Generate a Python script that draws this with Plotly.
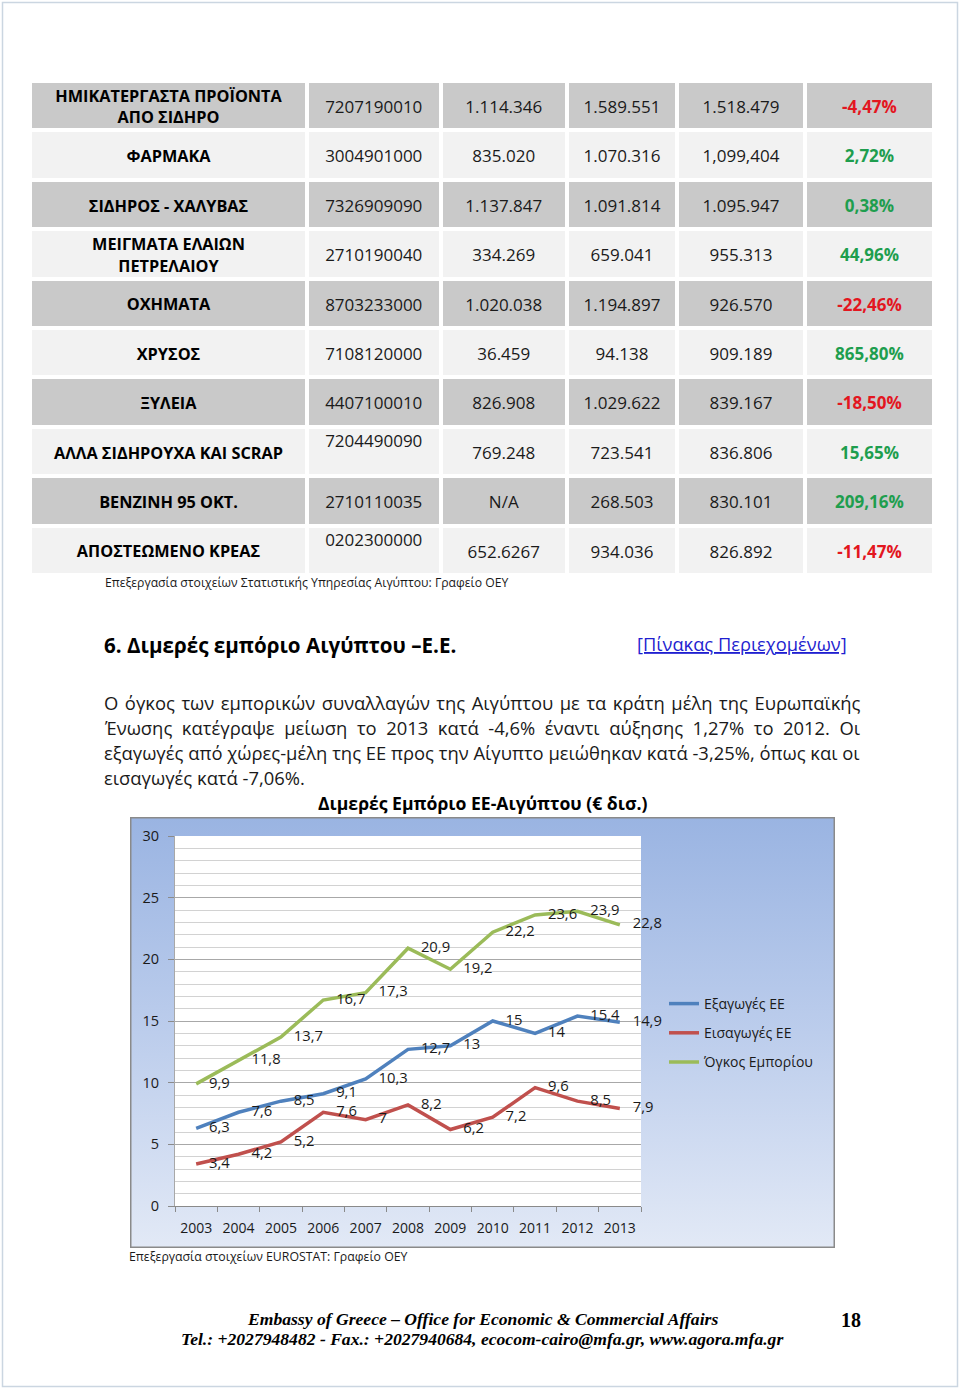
import base64
import plotly.graph_objects as go

W, H = 960, 1389

# ---------------- data: product table ----------------
products = [
    "ΗΜΙΚΑΤΕΡΓΑΣΤΑ ΠΡΟΪΟΝΤΑ<br>ΑΠΟ ΣΙΔΗΡΟ",
    "ΦΑΡΜΑΚΑ",
    "ΣΙΔΗΡΟΣ - ΧΑΛΥΒΑΣ",
    "ΜΕΙΓΜΑΤΑ ΕΛΑΙΩΝ<br>ΠΕΤΡΕΛΑΙΟΥ",
    "ΟΧΗΜΑΤΑ",
    "ΧΡΥΣΟΣ",
    "ΞΥΛΕΙΑ",
    "ΑΛΛΑ ΣΙΔΗΡΟΥΧΑ ΚΑΙ SCRAP",
    "ΒΕΝΖΙΝΗ 95 ΟΚΤ.",
    "ΑΠΟΣΤΕΩΜΕΝΟ ΚΡΕΑΣ",
]
codes = ["7207190010", "3004901000", "7326909090", "2710190040", "8703233000",
         "7108120000", "4407100010", "7204490090", "2710110035", "0202300000"]
val_2011 = ["1.114.346", "835.020", "1.137.847", "334.269", "1.020.038",
            "36.459", "826.908", "769.248", "N/A", "652.6267"]
val_2012 = ["1.589.551", "1.070.316", "1.091.814", "659.041", "1.194.897",
            "94.138", "1.029.622", "723.541", "268.503", "934.036"]
val_2013 = ["1.518.479", "1,099,404", "1.095.947", "955.313", "926.570",
            "909.189", "839.167", "836.806", "830.101", "826.892"]
change_pct = ["-4,47%", "2,72%", "0,38%", "44,96%", "-22,46%",
              "865,80%", "-18,50%", "15,65%", "209,16%", "-11,47%"]

# ---------------- data: EU-Egypt trade chart ----------------
years = ["2003", "2004", "2005", "2006", "2007", "2008", "2009", "2010", "2011", "2012", "2013"]
exports_eu = [6.3, 7.6, 8.5, 9.1, 10.3, 12.7, 13, 15, 14, 15.4, 14.9]
imports_eu = [3.4, 4.2, 5.2, 7.6, 7, 8.2, 6.2, 7.2, 9.6, 8.5, 7.9]
trade_volume = [9.9, 11.8, 13.7, 16.7, 17.3, 20.9, 19.2, 22.2, 23.6, 23.9, 22.8]
series_names = ["Εξαγωγές ΕΕ", "Εισαγωγές ΕΕ", "Όγκος Εμπορίου"]

# ---------------- layout constants ----------------
SANS = "Open Sans"
SERIF = "Liberation Serif"
TXT = "#1a1a1a"
col_edges = [30, 307, 440.5, 567, 677, 805, 934]     # table column borders (px)
TABLE_TOP, TABLE_BOTTOM = 81, 575
raised_code_rows = {7, 9}
TEXT_NUDGE_PX = 3
CH_L, CH_R, CH_T, CH_B = 175, 641, 836, 1206        # chart plot area (px)
BOX_L, BOX_R, BOX_T, BOX_B = 130, 835, 817, 1248     # chart outer box (px)
series_colors = ["#4F81BD", "#C0504D", "#9BBB59"]


def px(x):
    return x / W


def py(y):
    return 1 - y / H


def fmt(v):
    return f"{v:g}".replace(".", ",")


fig = go.Figure()

# ---------------- table (heatmap cells + text) ----------------
n_rows = len(products)
z = [[1 if i % 2 == 0 else 0] * 6 for i in range(n_rows)]
fig.add_trace(go.Heatmap(
    x=col_edges, y=list(range(n_rows + 1)), z=z,
    colorscale=[[0, "#F2F2F2"], [1, "#C9C9C9"]], zmin=0, zmax=1,
    showscale=False, xgap=4, ygap=4, hoverinfo="skip",
    xaxis="x2", yaxis="y2",
))
centers = [(col_edges[j] + col_edges[j + 1]) / 2 for j in range(6)]
row_px = (TABLE_BOTTOM - TABLE_TOP) / n_rows
rows_mid = [i + 0.5 + TEXT_NUDGE_PX / row_px for i in range(n_rows)]
code_y = [r - (12 / row_px if i in raised_code_rows else 0) for i, r in enumerate(rows_mid)]

columns = [
    (products, rows_mid, dict(family=SANS, size=16.3, color="black", weight=700)),
    (codes, code_y, dict(family=SANS, size=17, color=TXT)),
    (val_2011, rows_mid, dict(family=SANS, size=17, color=TXT)),
    (val_2012, rows_mid, dict(family=SANS, size=17, color=TXT)),
    (val_2013, rows_mid, dict(family=SANS, size=17, color=TXT)),
    (change_pct, rows_mid,
     dict(family=SANS, size=17, weight=700,
          color=["#E3161F" if s.startswith("-") else "#1E9E4E" for s in change_pct])),
]
for j, (vals, ys, font) in enumerate(columns):
    fig.add_trace(go.Scatter(
        x=[centers[j]] * n_rows, y=ys, text=vals, mode="text",
        textposition="middle center", textfont=font, hoverinfo="skip",
        showlegend=False, xaxis="x2", yaxis="y2", cliponaxis=False,
    ))

# ---------------- chart lines ----------------
for name, vals, color in zip(series_names, [exports_eu, imports_eu, trade_volume], series_colors):
    fig.add_trace(go.Scatter(
        x=years, y=vals, name=name, mode="lines+markers+text",
        line=dict(color=color, width=3.5),
        marker=dict(size=19, color="rgba(0,0,0,0)"),
        text=[fmt(v) for v in vals], textposition="middle right",
        textfont=dict(family=SANS, size=14.8, color=TXT),
        cliponaxis=False, legendgroup=name, hoverinfo="skip",
    ))

# ---------------- background: chart box gradient ----------------
bw, bh = BOX_R - BOX_L, BOX_B - BOX_T
svg = (
    f"<svg xmlns='http://www.w3.org/2000/svg' width='{bw}' height='{bh}' "
    f"viewBox='0 0 {bw} {bh}' preserveAspectRatio='none'>"
    "<defs><linearGradient id='g' x1='0' y1='0' x2='0' y2='1'>"
    "<stop offset='0' stop-color='#9AB4E2'/><stop offset='0.5' stop-color='#BCCDEC'/>"
    "<stop offset='1' stop-color='#E2E9F6'/></linearGradient></defs>"
    f"<rect x='0.75' y='0.75' width='{bw - 1.5}' height='{bh - 1.5}' fill='url(#g)' "
    "stroke='#8A8A8A' stroke-width='1.5'/></svg>"
)
src = "data:image/svg+xml;base64," + base64.b64encode(svg.encode()).decode()

annotations = []


def note(text, x, y, size, xanchor="left", color=TXT, family=SANS):
    annotations.append(dict(
        text=text, x=px(x), y=py(y), xref="paper", yref="paper",
        xanchor=xanchor, yanchor="middle", showarrow=False,
        font=dict(family=family, size=size, color=color),
    ))


note("Επεξεργασία στοιχείων Στατιστικής Υπηρεσίας Αιγύπτου: Γραφείο ΟΕΥ", 103, 582, 12.2)
note("<b>6. Διμερές εμπόριο Αιγύπτου –Ε.Ε.</b>", 102, 645, 20.6, color="black")
note("<u>[Πίνακας Περιεχομένων]</u>", 635, 643, 18.3, color="#1F1FD0")
para = [
    "Ο όγκος των εμπορικών συναλλαγών της Αιγύπτου με τα κράτη μέλη της Ευρωπαϊκής",
    "Ένωσης κατέγραψε μείωση το 2013 κατά -4,6% έναντι αύξησης 1,27% το 2012. Οι",
    "εξαγωγές από χώρες-μέλη της ΕΕ προς την Αίγυπτο μειώθηκαν κατά -3,25%, όπως και οι",
    "εισαγωγές κατά -7,06%.",
]
para_word_spacing = [1.75, 4.8, 0, 0]   # emulate justified text
for k, line in enumerate(para):
    txt = line
    if para_word_spacing[k]:
        txt = f"<span style='word-spacing:{para_word_spacing[k]}px'>{line}</span>"
    note(txt, 102, 702 + 25.3 * k, 18.4)
note("<b>Διμερές Εμπόριο ΕΕ-Αιγύπτου (€ δισ.)</b>", 482.5, 803, 17.6, xanchor="center", color="black")
note("Επεξεργασία στοιχείων EUROSTAT: Γραφείο ΟΕΥ", 127, 1256, 12.3)
note("<b><i>Embassy of Greece – Office for Economic &amp; Commercial Affairs</i></b>",
     482, 1319, 17.6, xanchor="center", color="black", family=SERIF)
note("<b><i>Tel.: +2027948482 - Fax.: +2027940684, ecocom-cairo@mfa.gr, www.agora.mfa.gr</i></b>",
     482, 1339, 17.6, xanchor="center", color="black", family=SERIF)
note("<b>18</b>", 851, 1320, 20, xanchor="center", color="black", family=SERIF)

fig.update_layout(
    width=W, height=H, margin=dict(l=0, r=0, t=0, b=0, pad=0, autoexpand=False),
    paper_bgcolor="white", plot_bgcolor="white",
    showlegend=True,
    legend=dict(
        x=px(664), y=py(988), xanchor="left", yanchor="top",
        font=dict(family=SANS, size=14, color=TXT),
        bgcolor="rgba(0,0,0,0)", traceorder="grouped", tracegroupgap=8,
    ),
    xaxis=dict(
        domain=[px(CH_L), px(CH_R)], anchor="y", type="category",
        range=[-0.5, len(years) - 0.5], tickson="boundaries",
        ticks="outside", ticklen=5, tickcolor="#8A8A8A",
        showline=True, linecolor="#8A8A8A", linewidth=1,
        showgrid=False, zeroline=False, ticklabelstandoff=9, automargin=False,
        tickfont=dict(family=SANS, size=14, color=TXT), fixedrange=True,
    ),
    yaxis=dict(
        domain=[py(CH_B), py(CH_T)], anchor="x",
        range=[0, 30], dtick=5, tick0=0,
        ticks="outside", ticklen=6, tickcolor="#8A8A8A",
        showline=True, linecolor="#A8A8A8",
        showgrid=True, gridcolor="#A8A8A8", gridwidth=1,
        minor=dict(dtick=1, showgrid=True, gridcolor="#D2D2D2", gridwidth=1),
        zeroline=False, ticklabelstandoff=6, automargin=False,
        tickfont=dict(family=SANS, size=14.5, color=TXT), fixedrange=True,
    ),
    xaxis2=dict(domain=[px(col_edges[0]), px(col_edges[-1])], anchor="y2", automargin=False,
                range=[col_edges[0], col_edges[-1]], visible=False, fixedrange=True),
    yaxis2=dict(domain=[py(TABLE_BOTTOM), py(TABLE_TOP)], anchor="x2", automargin=False,
                range=[n_rows, 0], visible=False, fixedrange=True),
    images=[dict(
        source=src, xref="paper", yref="paper", x=px(BOX_L), y=py(BOX_T),
        sizex=bw / W, sizey=bh / H, xanchor="left", yanchor="top",
        sizing="stretch", layer="below",
    )],
    shapes=[
        dict(type="rect", xref="paper", yref="paper",
             x0=px(CH_L), x1=px(CH_R), y0=py(CH_B), y1=py(CH_T),
             fillcolor="white", line=dict(width=0), layer="below"),
        dict(type="rect", xref="paper", yref="paper",
             x0=px(2.5), x1=px(957.5), y0=py(1386.5), y1=py(2.5),
             fillcolor="rgba(0,0,0,0)", line=dict(color="#CBD6E1", width=1.5), layer="below"),
    ],
    annotations=annotations,
)

fig.write_html("out.html")
